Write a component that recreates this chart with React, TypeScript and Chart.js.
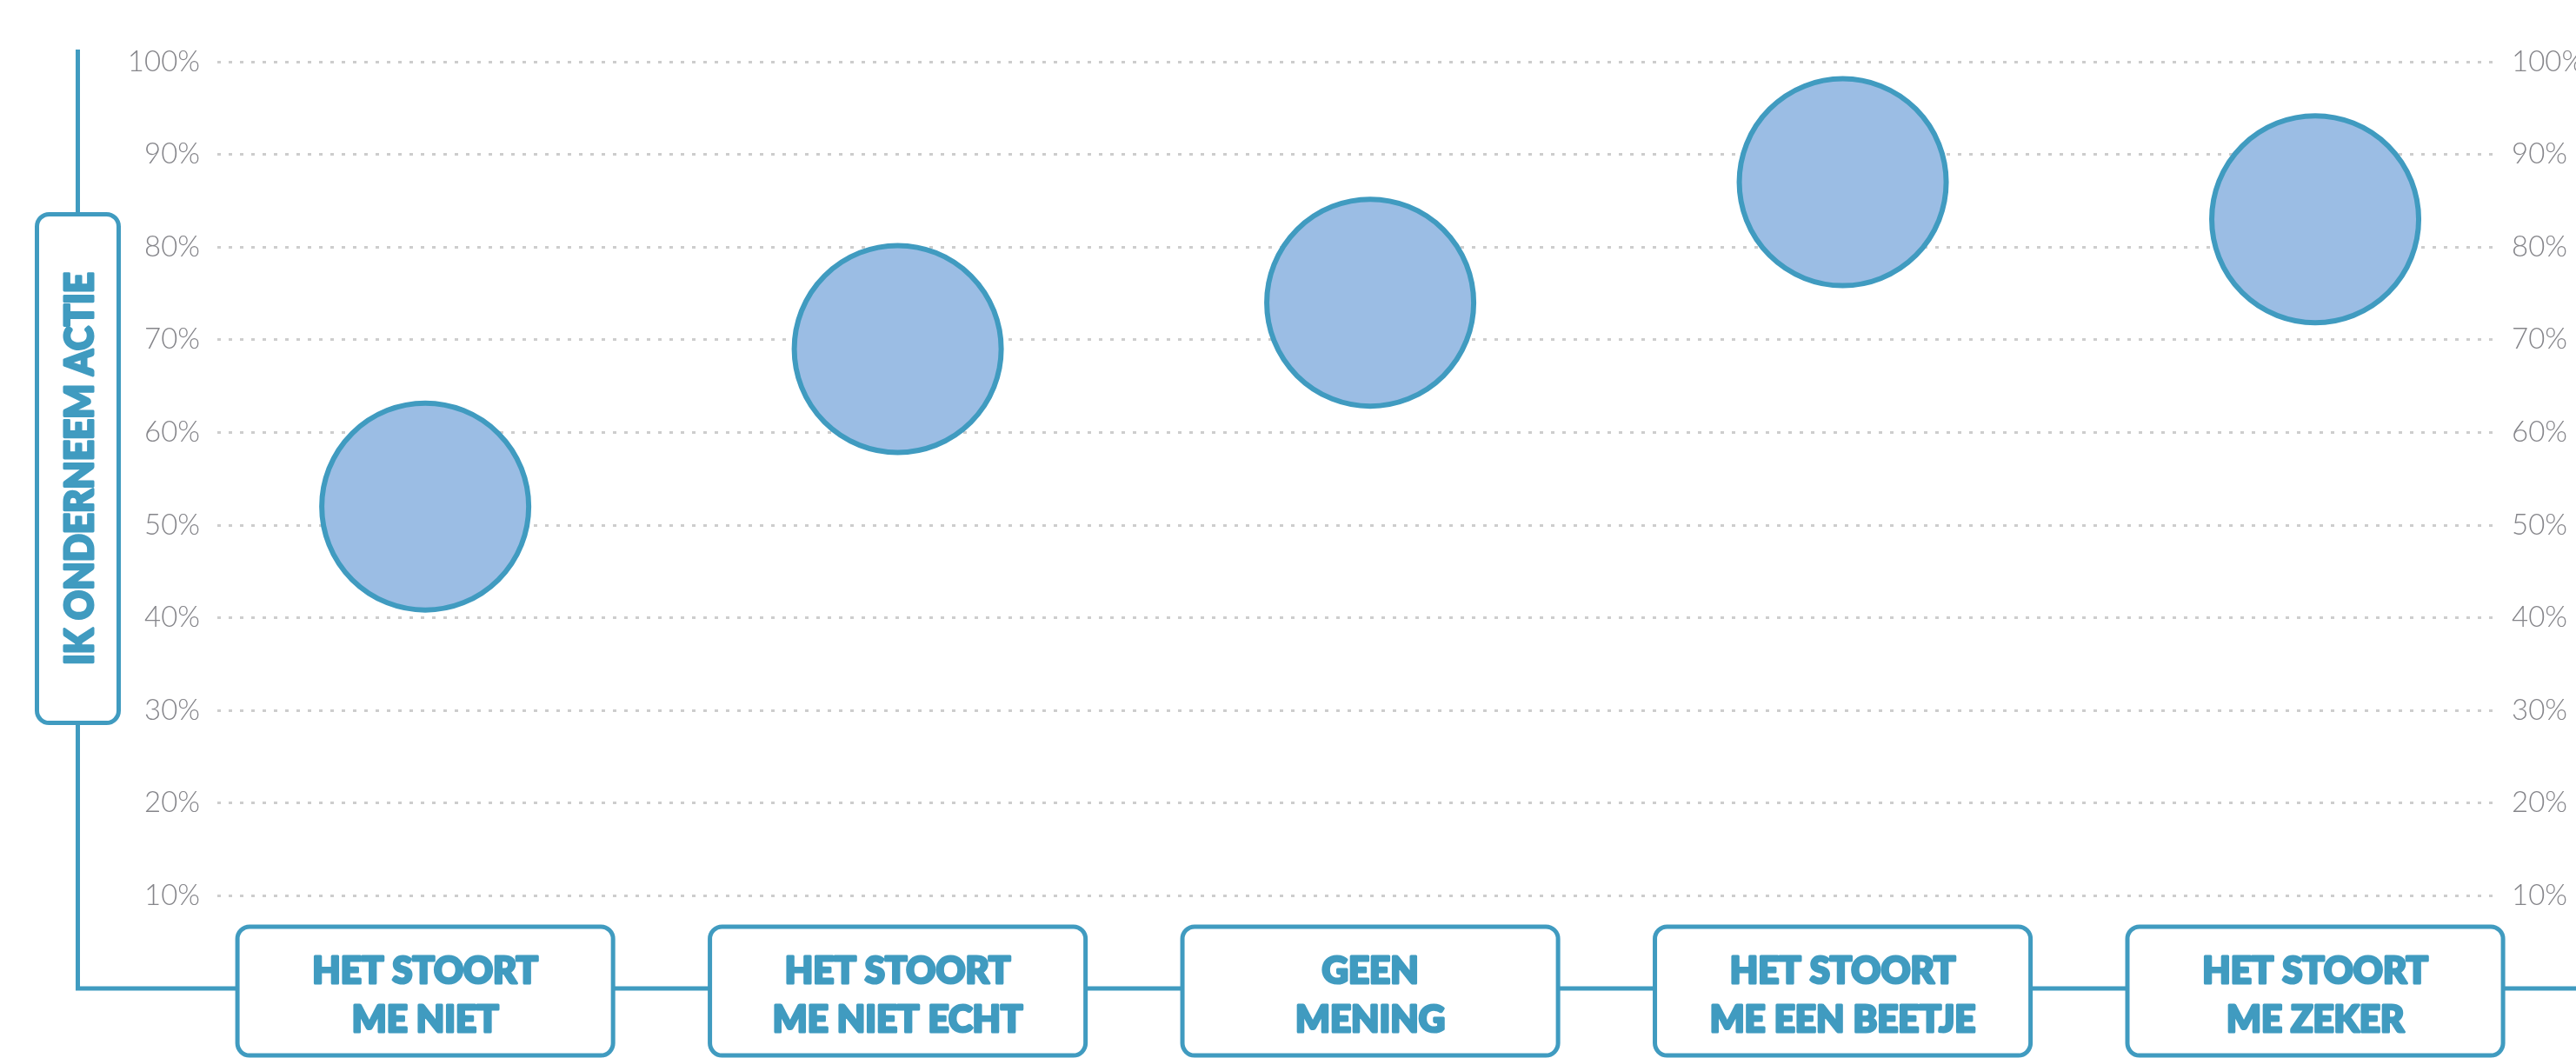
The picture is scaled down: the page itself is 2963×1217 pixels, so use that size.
import { useEffect, useRef } from "react";
import { Chart, registerables } from "chart.js";

Chart.register(...registerables);

// ---- data ----
const categories: string[][] = [
  ["HET STOORT", "ME NIET"],
  ["HET STOORT", "ME NIET ECHT"],
  ["GEEN", "MENING"],
  ["HET STOORT", "ME EEN BEETJE"],
  ["HET STOORT", "ME ZEKER"],
];
const categoryIndex = [0, 1, 2, 3, 4];
const values = [52, 69, 74, 87, 83];
const yTicks = [10, 20, 30, 40, 50, 60, 70, 80, 90, 100];
const yTitle = "IK ONDERNEEM ACTIE";

// ---- styles ----
const BLUE = "#409bc0";
const FILL = "#9bbde4";
const GRID = "#cdcdcd";
const TICK = "#85858a";
const W = 2963;
const H = 1217;
const HEAVY = "900 42px 'Liberation Sans Narrow', Lato, sans-serif";

function heavyText(ctx: CanvasRenderingContext2D, t: string, x: number, y: number, maxW?: number) {
  ctx.lineWidth = 3;
  ctx.lineJoin = "round";
  ctx.strokeStyle = BLUE;
  if (maxW) {
    ctx.strokeText(t, x, y, maxW);
    ctx.fillText(t, x, y, maxW);
  } else {
    ctx.strokeText(t, x, y);
    ctx.fillText(t, x, y);
  }
}

const decorPlugin = {
  id: "decor",
  afterDraw(chart: any) {
    const ctx: CanvasRenderingContext2D = chart.ctx;
    const xs = chart.scales.x;
    const ys = chart.scales.y;
    const baseY = ys.getPixelForValue(0);
    const axX = 89.5;
    ctx.save();
    ctx.strokeStyle = BLUE;
    ctx.lineWidth = 5;
    ctx.lineJoin = "miter";
    ctx.lineCap = "butt";
    ctx.beginPath();
    ctx.moveTo(axX, 57);
    ctx.lineTo(axX, baseY);
    ctx.lineTo(chart.width, baseY);
    ctx.stroke();

    // y title box
    ctx.beginPath();
    (ctx as any).roundRect(42.5, 246.5, 94, 585, 14);
    ctx.fillStyle = "#ffffff";
    ctx.fill();
    ctx.stroke();
    ctx.save();
    ctx.translate(axX + 1, 539);
    ctx.rotate(-Math.PI / 2);
    ctx.fillStyle = BLUE;
    ctx.font = "900 46px 'Liberation Sans Narrow', Lato, sans-serif";
    ctx.textAlign = "center";
    ctx.textBaseline = "middle";
    heavyText(ctx, yTitle, 0, 2, 452);
    ctx.restore();

    // category boxes
    const step = xs.getPixelForValue(1) - xs.getPixelForValue(0);
    const bw = step * 0.795;
    categories.forEach((lines, i) => {
      const cx = xs.getPixelForValue(categoryIndex[i]);
      ctx.beginPath();
      ctx.lineWidth = 5;
      ctx.strokeStyle = BLUE;
      (ctx as any).roundRect(cx - bw / 2, baseY - 71, bw, 148, 14);
      ctx.fillStyle = "#ffffff";
      ctx.fill();
      ctx.stroke();
      ctx.fillStyle = BLUE;
      ctx.font = HEAVY;
      ctx.textAlign = "center";
      ctx.textBaseline = "middle";
      lines.forEach((t, j) => {
        heavyText(ctx, t, cx, baseY - 20 + j * 56);
      });
    });
    ctx.restore();
  },
};

export default function App() {
  const ref = useRef<HTMLCanvasElement | null>(null);
  useEffect(() => {
    document.body.style.margin = "0";
    if (!ref.current) return;
    const tickFont = { family: "Lato", weight: 300 as any, size: 33 };
    const setTicks = (s: any) => {
      s.ticks = yTicks.map((v) => ({ value: v }));
    };
    const chart = new Chart(ref.current, {
      type: "scatter",
      data: {
        datasets: [
          {
            data: values.map((v, i) => ({ x: categoryIndex[i], y: v })),
            pointRadius: 119,
            pointHoverRadius: 119,
            pointBorderWidth: 6,
            pointBackgroundColor: FILL,
            pointBorderColor: BLUE,
            showLine: false,
            clip: false as any,
          },
        ],
      },
      options: {
        animation: false,
        responsive: false,
        devicePixelRatio: 1,
        events: [],
        layout: { autoPadding: false, padding: { top: 71, bottom: 80, left: 0, right: 0 } },
        plugins: { legend: { display: false }, tooltip: { enabled: false } },
        scales: {
          x: { type: "linear", min: -0.44, max: 4.39, display: false },
          y: {
            position: "left",
            min: 0,
            max: 100,
            afterBuildTicks: setTicks,
            afterFit: (s: any) => {
              s.width = 250;
            },
            ticks: {
              callback: (v: any) => v + "%",
              font: tickFont,
              color: TICK,
              padding: 20,
            },
            grid: { color: GRID, lineWidth: 3, drawTicks: false },
            border: { display: false, dash: [4, 9] },
          },
          y2: {
            position: "right",
            min: 0,
            max: 100,
            afterBuildTicks: setTicks,
            afterFit: (s: any) => {
              s.width = 88;
            },
            ticks: {
              callback: (v: any) => v + "%",
              font: tickFont,
              color: TICK,
              padding: 14,
            },
            grid: { display: false, drawTicks: false },
            border: { display: false },
          },
        },
      } as any,
      plugins: [decorPlugin],
    });
    return () => chart.destroy();
  }, []);
  return (
    <div style={{ width: W, height: H }}>
      <canvas ref={ref} width={W} height={H} style={{ display: "block" }} />
    </div>
  );
}
